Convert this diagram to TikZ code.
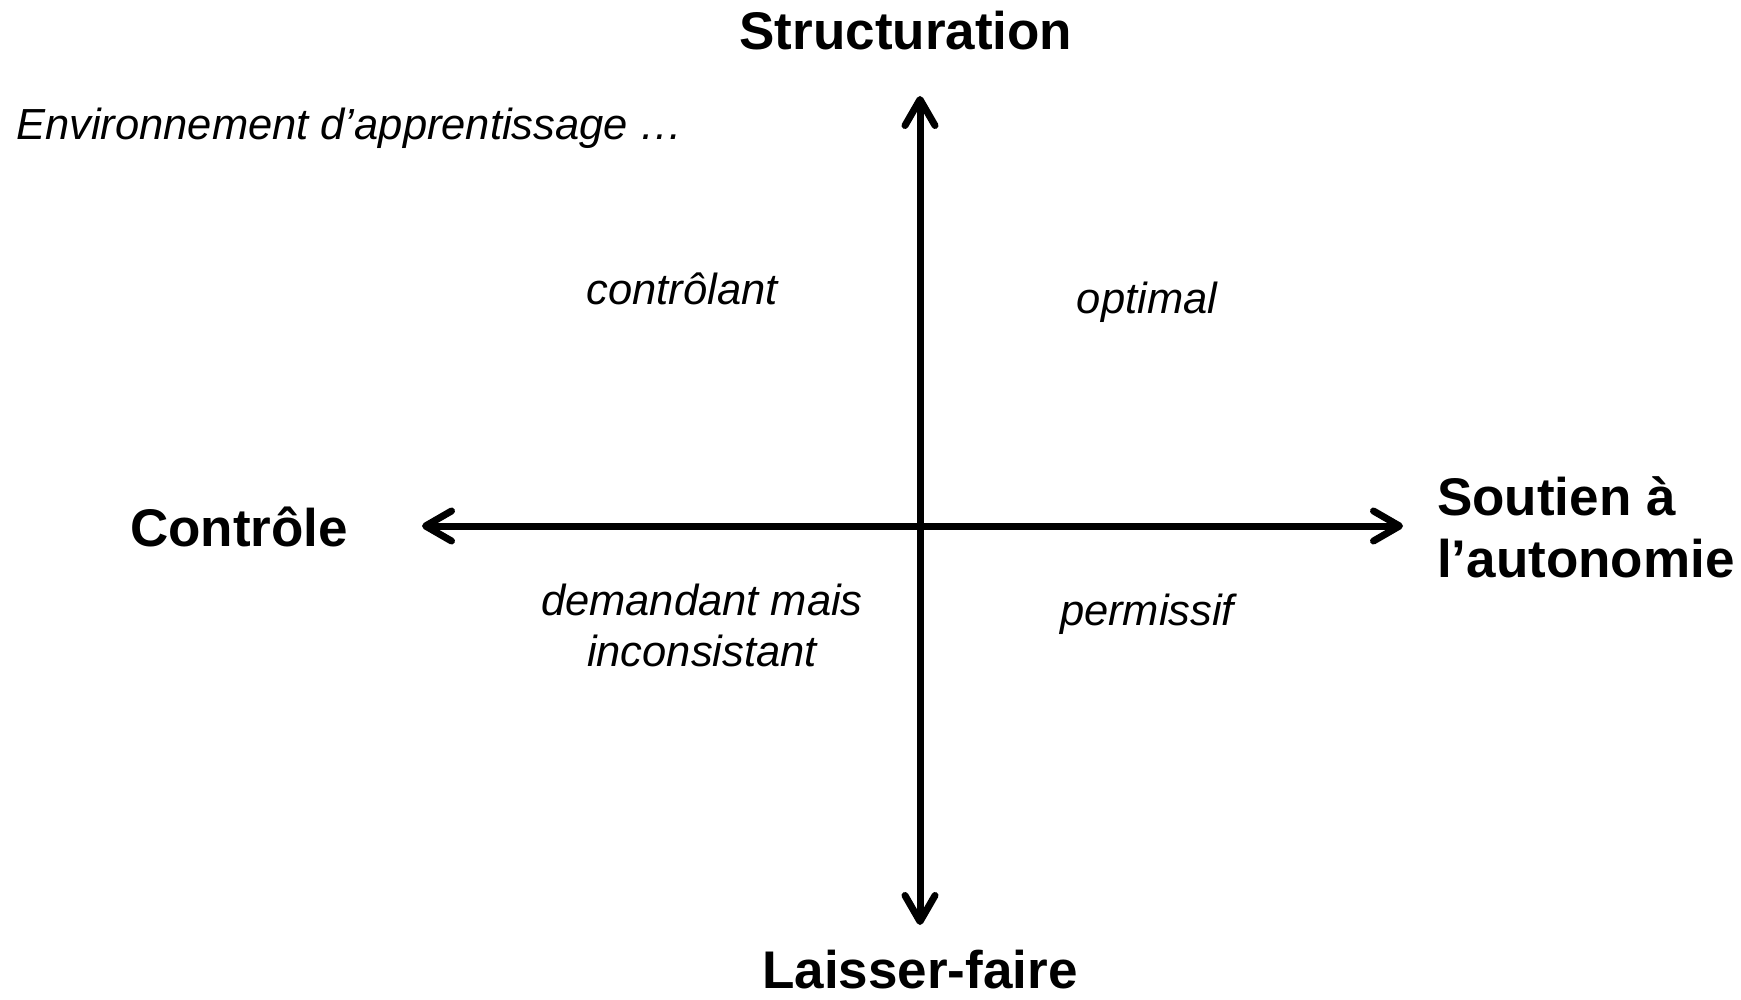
\documentclass[tikz,border=0pt]{standalone}
\usepackage{fontspec}
\setmainfont{Liberation Sans}
\usetikzlibrary{arrows.meta}
\tikzset{
  pole/.style={font=\fontsize{53pt}{62pt}\selectfont\bfseries, inner sep=0pt},
  zone/.style={font=\fontsize{43.5pt}{51pt}\selectfont\itshape, inner sep=0pt, align=center},
  axe/.style={line width=7pt, {Straight Barb[length=26pt, width=30pt, round]}-{Straight Barb[length=26pt, width=30pt, round]}}
}
\begin{document}
\begin{tikzpicture}
\useasboundingbox (0pt, 0pt) rectangle (1741pt, -1000pt);
% axes
\coordinate (haut) at (920pt, -96pt);
\coordinate (bas) at (920pt, -925pt);
\coordinate (gauche) at (422pt, -526pt);
\coordinate (droite) at (1403pt, -526pt);
\draw [axe] (bas) to (haut);
\draw [axe] (gauche) to (droite);
% poles
\node (struct) [pole] at (906pt, -31pt) {Structuration};
\node (laisser) [pole] at (920pt, -970pt) {Laisser-faire};
\node (controle) [pole, anchor=west] at (130pt, -527pt) {Contrôle};
\node (soutien) [pole, anchor=west, align=left] at (1437pt, -527pt) {Soutien à\\l’autonomie};
% zones
\node (titre) [zone, anchor=west] at (16pt, -128pt) {Environnement d’apprentissage \dots};
\node (ctrl) [zone] at (682pt, -289pt) {contrôlant};
\node (opt) [zone] at (1147pt, -302pt) {optimal};
\node (dem) [zone] at (702pt, -625pt) {demandant mais\\inconsistant};
\node (perm) [zone] at (1147pt, -614pt) {permissif};
\end{tikzpicture}
\end{document}
